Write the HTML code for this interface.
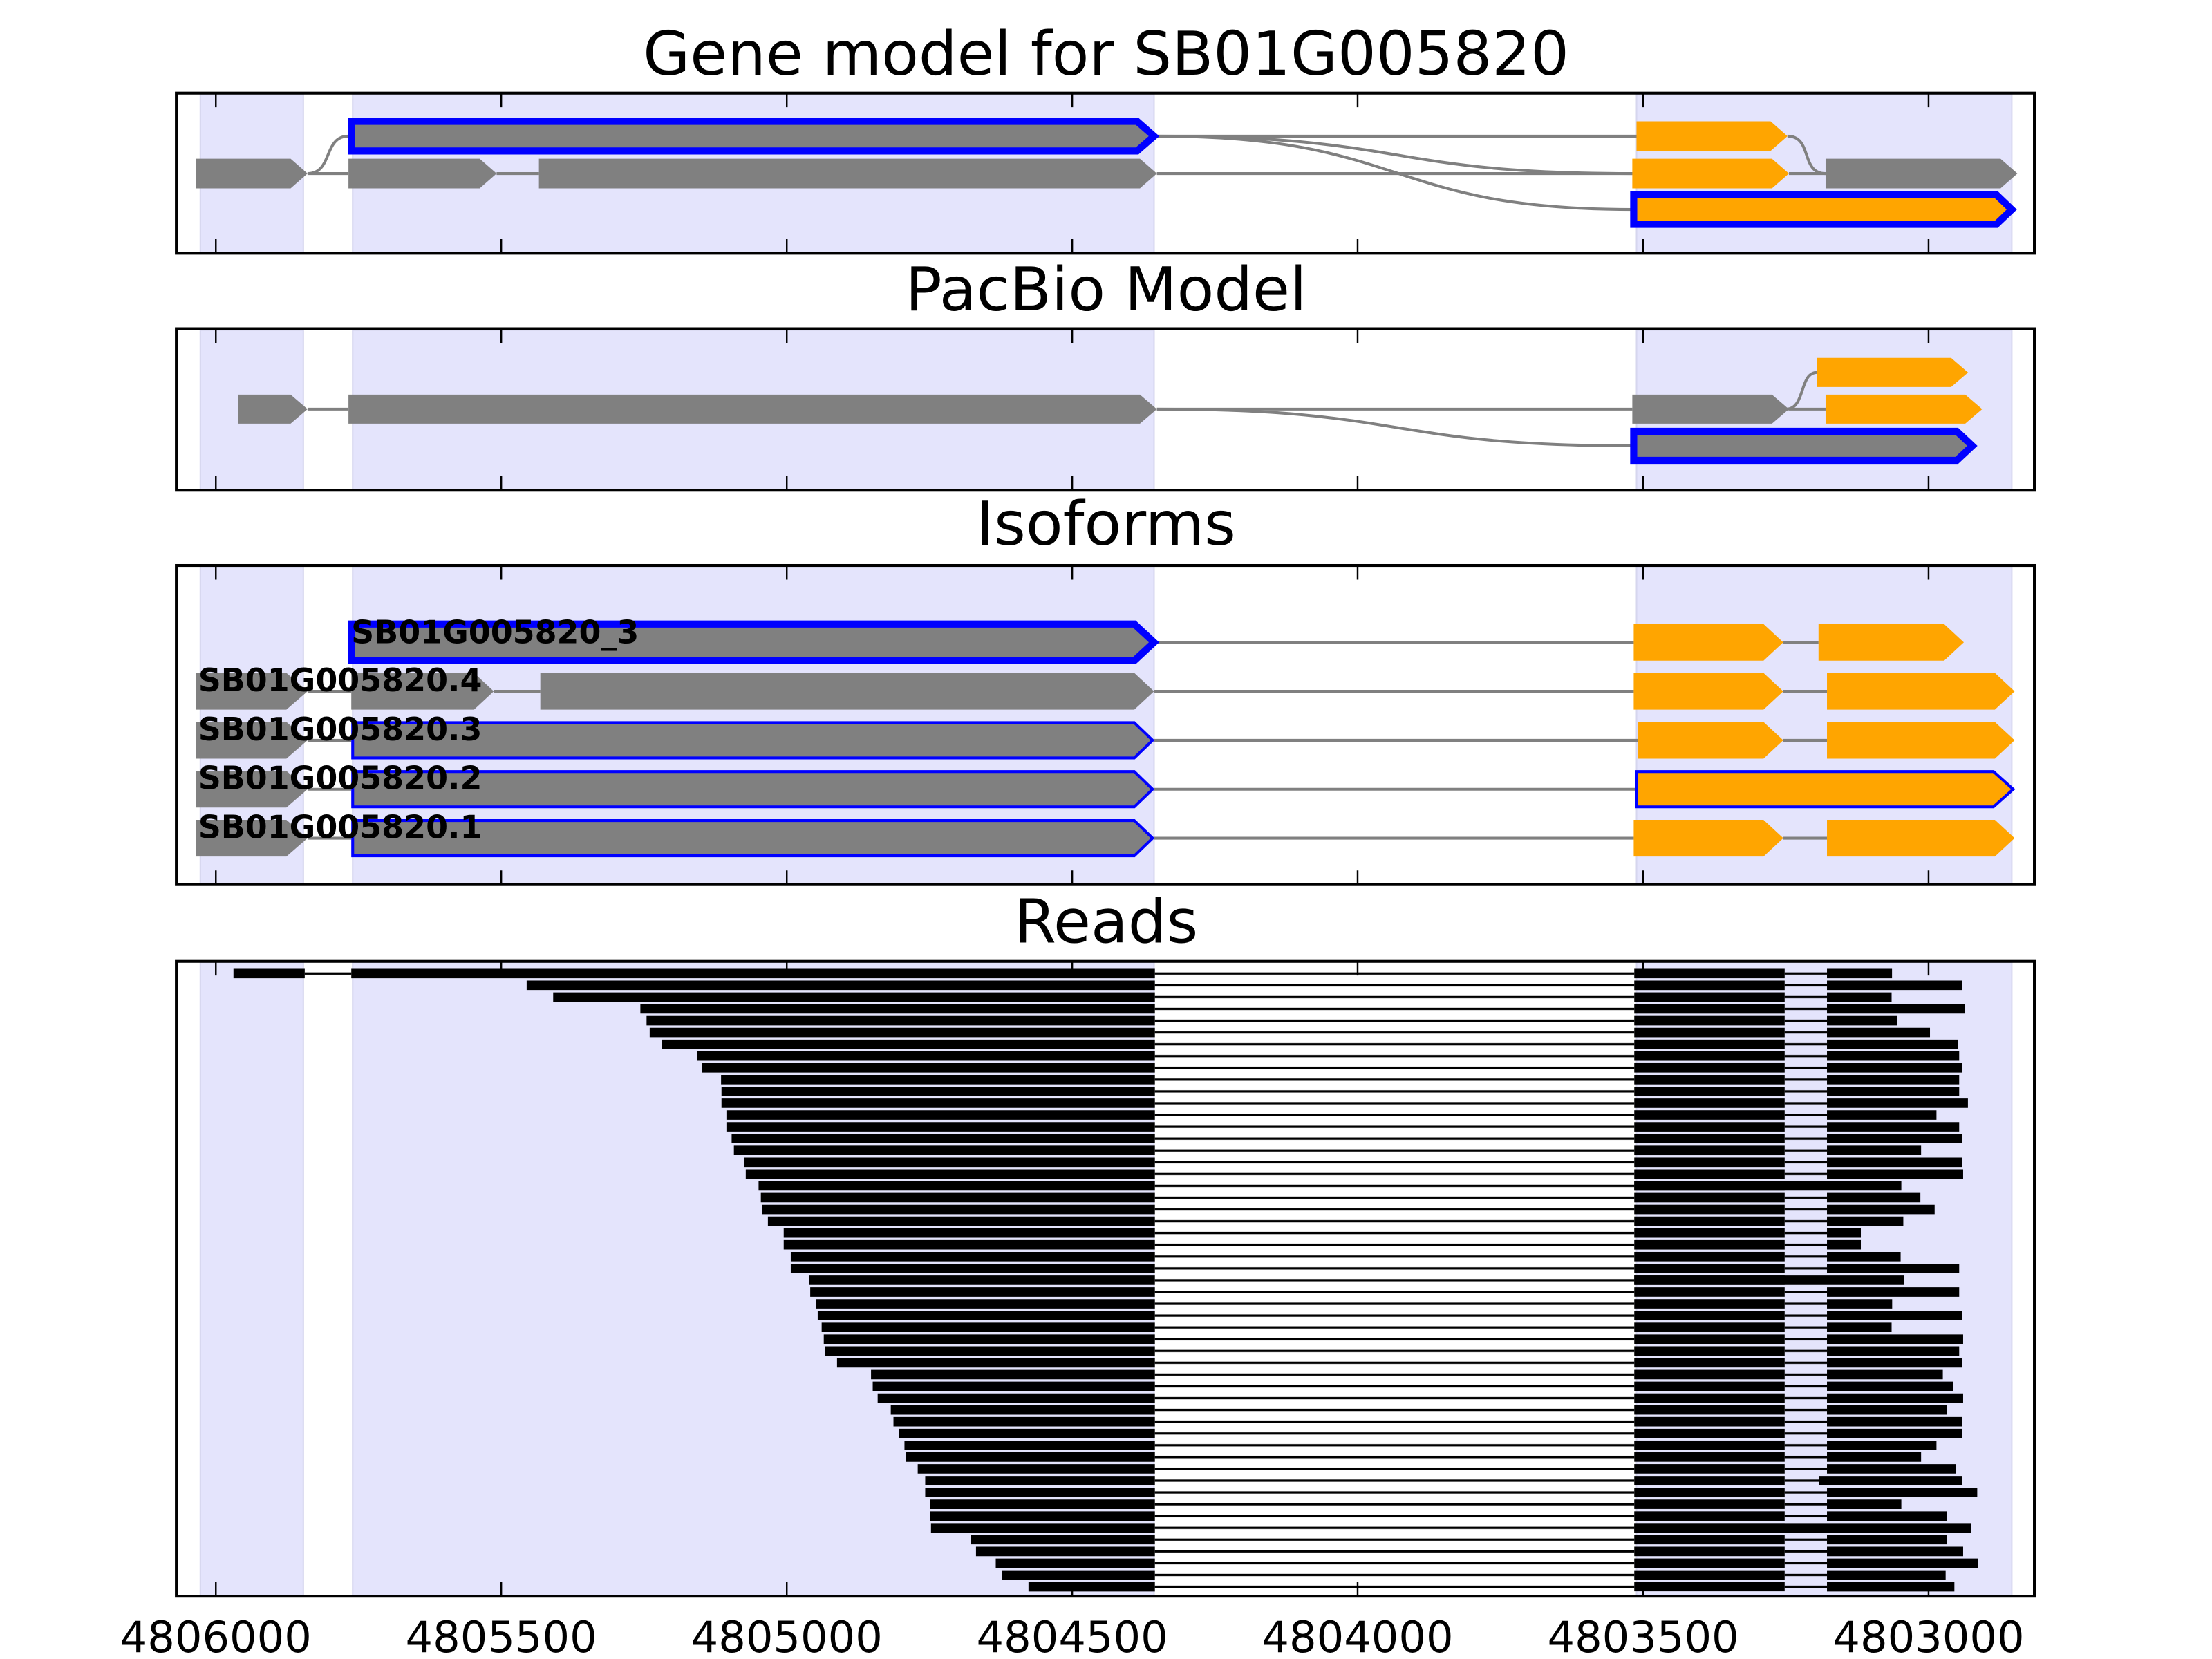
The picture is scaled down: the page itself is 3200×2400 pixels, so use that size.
<!DOCTYPE html>
<html><head><meta charset="utf-8"><style>
html,body{margin:0;padding:0;background:#fff;}
svg{display:block;}
</style></head><body>
<svg width="3200" height="2400" viewBox="0 0 1567.9 1175.9" preserveAspectRatio="none" xmlns="http://www.w3.org/2000/svg" font-family="'DejaVu Sans','Liberation Sans',sans-serif">
<defs>
<pattern id="bars" patternUnits="userSpaceOnUse" x="0" y="686.65" width="2000" height="8.36"><rect x="0" y="0" width="2000" height="6.7" fill="#000"/></pattern>
<pattern id="thin" patternUnits="userSpaceOnUse" x="0" y="686.65" width="2000" height="8.36"><rect x="0" y="2.55" width="2000" height="1.6" fill="#000"/></pattern>
</defs>
<rect width="1567.9" height="1175.9" fill="#fff"/>

<text x="784" y="53" font-size="43" text-anchor="middle">Gene model for SB01G005820</text>
<text x="784" y="220" font-size="43" text-anchor="middle">PacBio Model</text>
<text x="784" y="386" font-size="43" text-anchor="middle">Isoforms</text>
<text x="784" y="668" font-size="43" text-anchor="middle">Reads</text>

<g fill="#e4e4fc" stroke="#d6d6ee" stroke-width="1">
<rect x="142" y="67" width="73" height="112"/><rect x="250" y="67" width="568" height="112"/><rect x="1160" y="67" width="266" height="112"/>
<rect x="142" y="234" width="73" height="113"/><rect x="250" y="234" width="568" height="113"/><rect x="1160" y="234" width="266" height="113"/>
<rect x="142" y="401" width="73" height="226"/><rect x="250" y="401" width="568" height="226"/><rect x="1160" y="401" width="266" height="226"/>
<rect x="142" y="682" width="73" height="449"/><rect x="250" y="682" width="568" height="449"/><rect x="1160" y="682" width="266" height="449"/>
</g>

<g fill="none" stroke="#808080" stroke-width="2">
<path d="M218,123 H247 M352,123 H382 M820,123 H1157 M1268,123 H1294 M820,96.5 H1160"/>
<path d="M218,123 C236,123 229,96.5 247,96.5 M1267,96.5 C1285,96.5 1276,123 1294,123 M820,96.5 C1000,96.5 980,123 1157,123 M820,96.5 C1000,96.5 980,148.5 1158,148.5"/>
</g>
<polygon points="249,86 806,86 818,96.5 806,107 249,107" fill="#808080" stroke="#0000ff" stroke-width="5"/>
<polygon points="1160,86 1255,86 1267,96.5 1255,107 1160,107" fill="#ffa500"/>
<polygon points="139,112.5 206,112.5 218,123 206,133.5 139,133.5" fill="#808080"/>
<polygon points="247,112.5 340,112.5 352,123 340,133.5 247,133.5" fill="#808080"/>
<polygon points="382,112.5 808,112.5 820,123 808,133.5 382,133.5" fill="#808080"/>
<polygon points="1157,112.5 1256,112.5 1268,123 1256,133.5 1157,133.5" fill="#ffa500"/>
<polygon points="1294,112.5 1418,112.5 1430,123 1418,133.5 1294,133.5" fill="#808080"/>
<polygon points="1158,138 1415,138 1426,148.5 1415,159 1158,159" fill="#ffa500" stroke="#0000ff" stroke-width="5"/>

<g fill="none" stroke="#808080" stroke-width="2">
<path d="M218,290 H247 M820,290 H1157 M1268,290 H1294"/>
<path d="M1266,290 C1280,290 1275,264 1288,264 M820,290 C1000,290 980,316 1158,316"/>
</g>
<polygon points="169,279.7 206,279.7 218,290 206,300.3 169,300.3" fill="#808080"/>
<polygon points="247,279.7 808,279.7 820,290 808,300.3 247,300.3" fill="#808080"/>
<polygon points="1157,279.7 1256,279.7 1268,290 1256,300.3 1157,300.3" fill="#808080"/>
<polygon points="1294,279.7 1393,279.7 1405,290 1393,300.3 1294,300.3" fill="#ffa500"/>
<polygon points="1288,253.7 1383,253.7 1395,264 1383,274.3 1288,274.3" fill="#ffa500"/>
<polygon points="1158,305.7 1387,305.7 1398,316 1387,326.3 1158,326.3" fill="#808080" stroke="#0000ff" stroke-width="5"/>

<g fill="none" stroke="#808080" stroke-width="2">
<path d="M818,455.3 H1158 M1264,455.3 H1289"/>
<path d="M218,490 H249 M350,490 H383 M818,490 H1158 M1264,490 H1295"/>
<path d="M218,524.7 H249 M818,524.7 H1161 M1264,524.7 H1295"/>
<path d="M218,559.4 H249 M818,559.4 H1159"/>
<path d="M218,594.1 H249 M818,594.1 H1158 M1264,594.1 H1295"/>
</g>
<polygon points="249,442.3 804,442.3 818,455.3 804,468.3 249,468.3" fill="#808080" stroke="#0000ff" stroke-width="5"/>
<polygon points="1158,442.3 1250,442.3 1264,455.3 1250,468.3 1158,468.3" fill="#ffa500"/>
<polygon points="1289,442.3 1378,442.3 1392,455.3 1378,468.3 1289,468.3" fill="#ffa500"/>
<polygon points="139,477 203,477 218,490 203,503 139,503" fill="#808080"/>
<polygon points="249,477 336,477 350,490 336,503 249,503" fill="#808080"/>
<polygon points="383,477 804,477 818,490 804,503 383,503" fill="#808080"/>
<polygon points="1158,477 1250,477 1264,490 1250,503 1158,503" fill="#ffa500"/>
<polygon points="1295,477 1414,477 1428,490 1414,503 1295,503" fill="#ffa500"/>
<polygon points="139,511.7 203,511.7 218,524.7 203,537.7 139,537.7" fill="#808080"/>
<polygon points="250,512.2 804,512.2 817,524.7 804,537.2 250,537.2" fill="#808080" stroke="#0000ff" stroke-width="2"/>
<polygon points="1161,511.7 1250,511.7 1264,524.7 1250,537.7 1161,537.7" fill="#ffa500"/>
<polygon points="1295,511.7 1414,511.7 1428,524.7 1414,537.7 1295,537.7" fill="#ffa500"/>
<polygon points="139,546.4 203,546.4 218,559.4 203,572.4 139,572.4" fill="#808080"/>
<polygon points="250,546.9 804,546.9 817,559.4 804,571.9 250,571.9" fill="#808080" stroke="#0000ff" stroke-width="2"/>
<polygon points="1160,546.9 1413,546.9 1427,559.4 1413,571.9 1160,571.9" fill="#ffa500" stroke="#0000ff" stroke-width="2"/>
<polygon points="139,581.1 203,581.1 218,594.1 203,607.1 139,607.1" fill="#808080"/>
<polygon points="250,581.6 804,581.6 817,594.1 804,606.6 250,606.6" fill="#808080" stroke="#0000ff" stroke-width="2"/>
<polygon points="1158,581.1 1250,581.1 1264,594.1 1250,607.1 1158,607.1" fill="#ffa500"/>
<polygon points="1295,581.1 1414,581.1 1428,594.1 1414,607.1 1295,607.1" fill="#ffa500"/>
<g font-size="22.5" font-weight="bold" fill="#000">
<text x="249" y="456">SB01G005820_3</text>
<text x="140.5" y="490">SB01G005820.4</text>
<text x="140.5" y="524.7">SB01G005820.3</text>
<text x="140.5" y="559.4">SB01G005820.2</text>
<text x="140.5" y="594.1">SB01G005820.1</text>
</g>

<rect x="818.6" y="686.65" width="339.8" height="441.3" fill="url(#thin)"/>
<rect x="1265" y="686.65" width="30" height="441.3" fill="url(#thin)"/>
<rect x="1158.4" y="686.65" width="106.6" height="441.3" fill="url(#bars)"/>
<rect x="216" y="689.2" width="33" height="1.6" fill="#000"/>
<path fill="none" stroke="#000" stroke-width="6.7" d="M165.5,690H216 M249,690H818.6
M373.3,698.36H818.6 M392.1,706.72H818.6 M453.9,715.08H818.6 M458.3,723.44H818.6 M460.5,731.8H818.6 M469.3,740.16H818.6 M494.3,748.52H818.6 M497.4,756.88H818.6 M511.1,765.24H818.6 M511.4,773.6H818.6 M511.4,781.96H818.6 M514.9,790.32H818.6 M514.9,798.68H818.6 M518.6,807.04H818.6 M520.2,815.4H818.6 M527.7,823.76H818.6 M528.6,832.12H818.6 M537.7,840.48H818.6 M539.3,848.84H818.6 M540.2,857.2H818.6 M544.3,865.56H818.6 M555.5,873.92H818.6 M555.5,882.28H818.6 M560.5,890.64H818.6 M560.5,899H818.6 M573.6,907.36H818.6 M574.3,915.72H818.6 M578.6,924.08H818.6 M579.6,932.44H818.6 M582.4,940.8H818.6 M583.9,949.16H818.6 M584.9,957.52H818.6 M593.3,965.88H818.6 M617.4,974.24H818.6 M618.6,982.6H818.6 M622.1,990.96H818.6 M631.4,999.32H818.6 M633.3,1007.68H818.6 M637.4,1016.04H818.6 M641.1,1024.4H818.6 M642.1,1032.76H818.6 M650.5,1041.12H818.6 M655.8,1049.48H818.6 M655.8,1057.84H818.6 M659.3,1066.2H818.6 M659.3,1074.56H818.6 M659.9,1082.92H818.6 M688.3,1091.28H818.6 M691.8,1099.64H818.6 M705.8,1108H818.6 M710.2,1116.36H818.6 M729,1124.72H818.6"/>
<path fill="none" stroke="#000" stroke-width="6.7" d="M1295,690H1341.1 M1295,698.36H1390.7 M1295,706.72H1340.8 M1295,715.08H1392.9 M1295,723.44H1344.6 M1295,731.8H1368 M1295,740.16H1387.8 M1295,748.52H1388.7 M1295,756.88H1390.7 M1295,765.24H1388.7 M1295,773.6H1388.7 M1295,781.96H1394.9 M1295,790.32H1372.6 M1295,798.68H1388.7 M1295,807.04H1391 M1295,815.4H1361.7 M1295,823.76H1390.7 M1295,832.12H1391.5 M1158.4,840.48H1347.7 M1295,848.84H1361.2 M1295,857.2H1371.3 M1295,865.56H1349.1 M1295,873.92H1319 M1295,882.28H1319 M1295,890.64H1347.2 M1295,899H1388.7 M1158.4,907.36H1349.8 M1295,915.72H1388.7 M1295,924.08H1341.2 M1295,932.44H1390.7 M1295,940.8H1340.8 M1295,949.16H1391.5 M1295,957.52H1388.7 M1295,965.88H1390.7 M1295,974.24H1377.1 M1295,982.6H1384.4 M1295,990.96H1391.5 M1295,999.32H1379.9 M1295,1007.68H1391 M1295,1016.04H1391 M1295,1024.4H1372.6 M1295,1032.76H1361.7 M1295,1041.12H1386.5 M1289.6,1049.48H1390.7 M1295,1057.84H1401.5 M1295,1066.2H1347.7 M1295,1074.56H1380 M1158.4,1082.92H1397.3 M1295,1091.28H1380 M1295,1099.64H1391.5 M1295,1108H1401.8 M1295,1116.36H1379.1 M1295,1124.72H1385.3"/>

<g fill="none" stroke="#000" stroke-width="2">
<rect x="125" y="66" width="1317" height="113.5"/>
<rect x="125" y="233" width="1317" height="114.5"/>
<rect x="125" y="400.8" width="1317" height="226.2"/>
<rect x="125" y="681.4" width="1317" height="450"/>
</g>
<g stroke="#000" stroke-width="1.2">
<path d="M153,66v10 M355.3,66v10 M557.7,66v10 M760,66v10 M962.3,66v10 M1164.7,66v10 M1367,66v10
M153,179.5v-10 M355.3,179.5v-10 M557.7,179.5v-10 M760,179.5v-10 M962.3,179.5v-10 M1164.7,179.5v-10 M1367,179.5v-10
M153,233v10 M355.3,233v10 M557.7,233v10 M760,233v10 M962.3,233v10 M1164.7,233v10 M1367,233v10
M153,347.5v-10 M355.3,347.5v-10 M557.7,347.5v-10 M760,347.5v-10 M962.3,347.5v-10 M1164.7,347.5v-10 M1367,347.5v-10
M153,400.8v10 M355.3,400.8v10 M557.7,400.8v10 M760,400.8v10 M962.3,400.8v10 M1164.7,400.8v10 M1367,400.8v10
M153,627v-10 M355.3,627v-10 M557.7,627v-10 M760,627v-10 M962.3,627v-10 M1164.7,627v-10 M1367,627v-10
M153,681.4v10 M355.3,681.4v10 M557.7,681.4v10 M760,681.4v10 M962.3,681.4v10 M1164.7,681.4v10 M1367,681.4v10
M153,1131.4v-10 M355.3,1131.4v-10 M557.7,1131.4v-10 M760,1131.4v-10 M962.3,1131.4v-10 M1164.7,1131.4v-10 M1367,1131.4v-10"/>
</g>
<g font-size="30.5" text-anchor="middle" fill="#000">
<text x="153" y="1171">4806000</text>
<text x="355.3" y="1171">4805500</text>
<text x="557.7" y="1171">4805000</text>
<text x="760" y="1171">4804500</text>
<text x="962.3" y="1171">4804000</text>
<text x="1164.7" y="1171">4803500</text>
<text x="1367" y="1171">4803000</text>
</g>
</svg>
</body></html>
